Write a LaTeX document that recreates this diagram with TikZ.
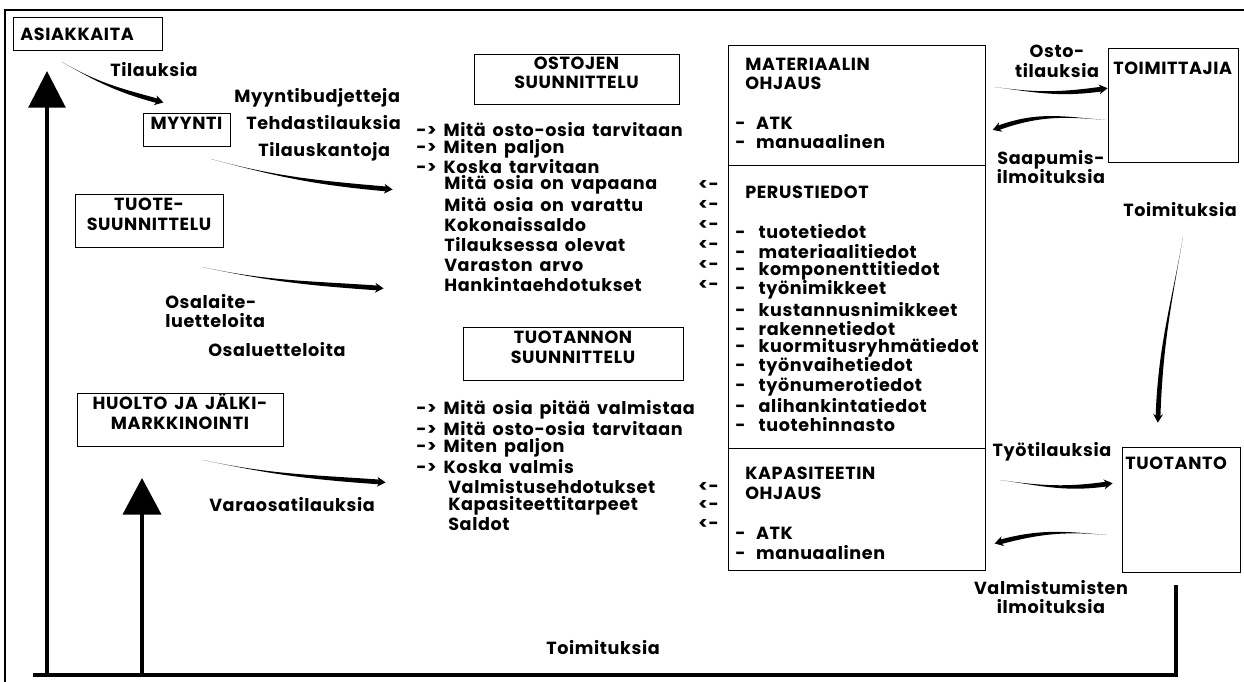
\documentclass[tikz,border=0pt]{standalone}
\usepackage{fontspec}
\setmainfont{Poppins}[LetterSpace=3.5, WordSpace=1.6]
\usetikzlibrary{arrows.meta,fit}

% tapered arrow: start, end, out, in (optional: direction of widening)
\newcommand{\swoosh}[5][yshift]{%
  \fill (#2) to[out=#4,in=#5] ([#1=1.7pt]#3) -- ([#1=-1.7pt]#3) to[out=#5,in=#4] (#2);
  \draw[-{Stealth[length=6pt,width=7pt]}, line width=0.8pt] ([shift={(#5:1pt)}]#3) -- ([shift={(#5+180:4pt)}]#3);
}

\begin{document}
\begin{tikzpicture}[x=0.025cm, y=0.025cm,
    txt/.style={font=\bfseries\fontsize{12.5}{14}\selectfont, inner sep=0pt, anchor=west},
    ctxt/.style={txt, anchor=center, align=center},
    box/.style={draw, line width=0.6pt, inner sep=0pt, align=center, font=\bfseries\fontsize{12.5}{14}\selectfont},
    big/.style={line width=2.8pt}]
\useasboundingbox (0,0) rectangle (1244,-682);
\draw[line width=1.2pt] (5,-682)--(5,-10)--(1244,-10);

% boxes
\node[box, fit={(13,-17)(162,-50)}] (asiak) {};
\node[txt] (asiakt) at (20,-34) {ASIAKKAITA};
\node[box, fit={(143,-113)(230,-146)}] (myynti) {MYYNTI};
\node[box, fit={(75,-194)(223,-247)}] (tuote) {TUOTE-\\SUUNNITTELU};
\node[box, fit={(77,-393)(283,-446)}] (huolto) {HUOLTO JA JÄLKI-\\MARKKINOINTI};
\node[box, fit={(474,-54)(679,-104)}] (ostot) {OSTOJEN\\SUUNNITTELU};
\node[box, fit={(463,-327)(683,-380)}] (tuotsuun) {TUOTANNON\\SUUNNITTELU};
\node[box, fit={(728,-45)(985,-165)}] (matohj) {};
\node[box, fit={(728,-165)(985,-448)}] (perus) {};
\node[box, fit={(728,-448)(985,-570)}] (kapohj) {};
\node[box, fit={(1108,-48)(1238,-162)}] (toimit) {};
\node[txt] (toimitt) at (1113,-68) {TOIMITTAJIA};
\node[box, fit={(1122,-447)(1240,-572)}] (tuotanto) {};
\node[txt] (tuotantot) at (1125,-463) {TUOTANTO};

% materiaalin ohjaus, perustiedot, kapasiteetin ohjaus
\node[txt, align=left] (matt) at (745,-74) {MATERIAALIN\\OHJAUS};
\node[txt] (matatk) at (735,-123) {-\hspace{0.6em}ATK};
\node[txt] (matman) at (735,-142) {-\hspace{0.6em}manuaalinen};
\node[txt] (perust) at (745,-192) {PERUSTIEDOT};
\foreach \t [count=\i from 0] in {tuotetiedot, materiaalitiedot, komponenttitiedot, työnimikkeet, kustannusnimikkeet, rakennetiedot, kuormitusryhmätiedot, työnvaihetiedot, työnumerotiedot, alihankintatiedot, tuotehinnasto}
    \node[txt] (pt\i) at (735,-232-19.3*\i) {-\hspace{0.75em}\t};
\node[txt, align=left] (kapt) at (745,-483) {KAPASITEETIN\\OHJAUS};
\node[txt] (kapatk) at (735,-533) {-\hspace{0.6em}ATK};
\node[txt] (kapman) at (735,-553) {-\hspace{0.6em}manuaalinen};

% ostojen suunnittelu
\foreach \t [count=\i from 0] in {Mitä osto-osia tarvitaan, Miten paljon, Koska tarvitaan}
    \node[txt] (oa\i) at (416,-130-18.5*\i) {-> \t};
\foreach \t [count=\i from 0] in {Mitä osia on vapaana, Mitä osia on varattu, Kokonaissaldo, Tilauksessa olevat, Varaston arvo, Hankintaehdotukset}
{
    \node[txt] (ov\i) at (444,-185-20*\i) {\t};
    \node[txt] (ol\i) at (698,-185-20*\i) {<-};
}

% tuotannon suunnittelu
\foreach \t [count=\i from 0] in {Mitä osia pitää valmistaa, Mitä osto-osia tarvitaan, Miten paljon, Koska valmis}
    \node[txt] (ta\i) at (416,-410-19*\i) {-> \t};
\foreach \t [count=\i from 0] in {Valmistusehdotukset, Kapasiteettitarpeet, Saldot}
{
    \node[txt] (tv\i) at (448,-487-18.5*\i) {\t};
    \node[txt] (tl\i) at (698,-487-18.5*\i) {<-};
}

% labels
\node[txt] (tilt) at (110,-70) {Tilauksia};
\node[txt] (mbt) at (234,-98) {Myyntibudjetteja};
\node[txt] (tdt) at (246,-123) {Tehdastilauksia};
\node[txt] (tkt) at (258,-152) {Tilauskantoja};
\node[txt, align=left] (olt) at (165,-311) {Osalaite-\\luetteloita};
\node[txt] (oslt) at (208,-350) {Osaluetteloita};
\node[txt] (vot) at (209,-505) {Varaosatilauksia};
\node[ctxt] (ostot2) at (1057,-61) {Osto-\\tilauksia};
\node[ctxt] (saapt) at (1051,-167) {Saapumis-\\ilmoituksia};
\node[ctxt] (toimt) at (1180,-210) {Toimituksia};
\node[ctxt] (tytt) at (1052,-452) {Työtilauksia};
\node[ctxt] (valmt) at (1051,-597) {Valmistumisten\\ilmoituksia};
\node[ctxt] (toimbt) at (603,-648) {Toimituksia};

% tapered arrows
\coordinate (tilS) at (62,-62);     \coordinate (tilE) at (158,-101);
\coordinate (myyS) at (211,-159);   \coordinate (myyE) at (387,-189);
\coordinate (tuoS) at (202,-267);   \coordinate (tuoE) at (378,-288);
\coordinate (huoS) at (203,-460);   \coordinate (huoE) at (380,-482);
\coordinate (ostS) at (995,-87);    \coordinate (ostE) at (1102,-89);
\coordinate (saaS) at (1105,-120);  \coordinate (saaE) at (998,-128);
\coordinate (toiS) at (1183,-237);  \coordinate (toiE) at (1158,-417);
\coordinate (tytS) at (1000,-480);  \coordinate (tytE) at (1107,-484);
\coordinate (valS) at (1107,-535);  \coordinate (valE) at (1000,-542);
\swoosh{tilS}{tilE}{-30}{165}
\swoosh{myyS}{myyE}{-15}{175}
\swoosh{tuoS}{tuoE}{-12}{176}
\swoosh{huoS}{huoE}{-12}{176}
\swoosh{ostS}{ostE}{-8}{188}
\swoosh{saaS}{saaE}{175}{20}
\swoosh[xshift]{toiS}{toiE}{-100}{88}
\swoosh{tytS}{tytE}{-8}{188}
\swoosh{valS}{valE}{175}{15}

% deliveries
\coordinate (bl) at (33,-675);
\coordinate (br) at (1176,-675);
\coordinate (tuotOut) at (1176,-585);
\coordinate (a1) at (47,-675);  \coordinate (asiakIn) at (47,-71);
\coordinate (a2) at (142,-675); \coordinate (huoltoIn) at (142,-478);
\draw[big] (bl) -- (br) -- (tuotOut);
\draw[big, -{Triangle[length=26pt,width=26pt]}] (a1) -- (asiakIn);
\draw[big, -{Triangle[length=26pt,width=27pt]}] (a2) -- (huoltoIn);
\end{tikzpicture}
\end{document}
